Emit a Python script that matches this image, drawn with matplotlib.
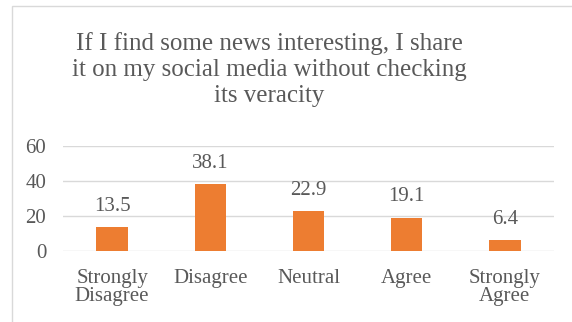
import matplotlib
matplotlib.use("Agg")
import matplotlib.pyplot as plt
from matplotlib.patches import Rectangle

categories = ["Strongly\nDisagree", "Disagree", "Neutral", "Agree", "Strongly\nAgree"]
values = [13.5, 38.1, 22.9, 19.1, 6.4]
y_ticks = [0, 20, 40, 60]
title = "If I find some news interesting, I share\nit on my social media without checking\nits veracity"

bar_color = "#ED7D31"
text_color = "#595959"
grid_color = "#D9D9D9"
serif = ["Liberation Serif", "DejaVu Serif"]

W, H = 572, 322
fig = plt.figure(figsize=(W / 100, H / 100), dpi=100)
fig.patch.set_facecolor("white")

# chart frame (runs off the right and bottom edges)
fig.patches.append(Rectangle((12 / W, -0.1), 1.2, 1 - 6 / H + 0.1,
                             transform=fig.transFigure, fill=False,
                             edgecolor=grid_color, linewidth=1.0))

ax = fig.add_axes([63 / W, 1 - 251 / H, (554 - 63) / W, (251 - 146) / H])
x = range(len(categories))
bars = ax.bar(x, values, width=0.32, color=bar_color, zorder=3)
ax.set_xlim(-0.5, len(categories) - 0.5)
ax.set_ylim(0, 60)
ax.set_yticks(y_ticks)
ax.set_yticklabels([str(t) for t in y_ticks], fontfamily=serif,
                   fontsize=15, color=text_color)
ax.set_xticks(list(x))
ax.set_xticklabels(categories, fontfamily=serif, fontsize=15,
                   color=text_color, linespacing=0.95)
ax.tick_params(axis="both", length=0)
ax.tick_params(axis="y", pad=12)
ax.tick_params(axis="x", pad=13)
for s in ax.spines.values():
    s.set_visible(False)
ax.yaxis.grid(True, color=grid_color, linewidth=1.0, zorder=0)
ax.set_axisbelow(True)

for rect, v in zip(bars, values):
    ax.annotate(f"{v:.1f}", (rect.get_x() + rect.get_width() / 2, v),
                xytext=(0, 8), textcoords="offset points",
                ha="center", va="bottom", fontfamily=serif,
                fontsize=15, color=text_color)

fig.text(269 / W, 1 - 32 / H, title, ha="center", va="top",
         fontfamily=serif, fontsize=18, color=text_color, linespacing=1.25)

fig.savefig("out.png", dpi=100, facecolor="white")
